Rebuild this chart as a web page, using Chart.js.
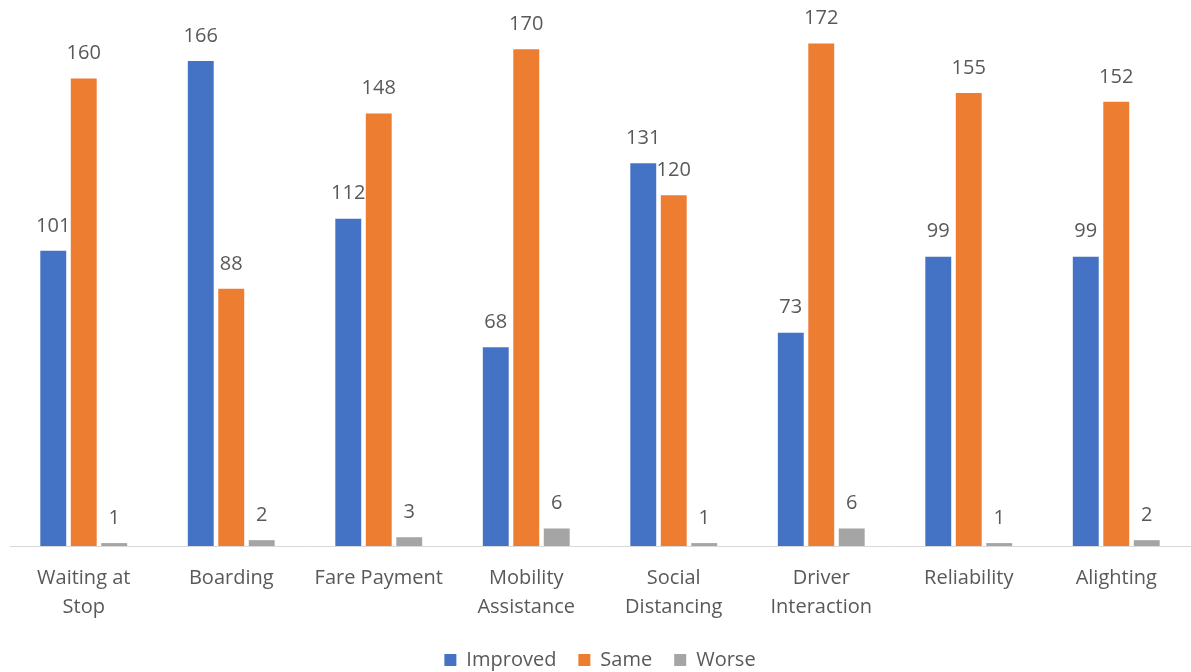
<!DOCTYPE html>
<html>
<head>
<meta charset="utf-8">
<script src="https://cdn.jsdelivr.net/npm/chart.js@4.4.1/dist/chart.umd.min.js"></script>
<style>
  html, body { margin: 0; padding: 0; background: #fff; }
  #wrap { width: 1191px; height: 672px; }
</style>
</head>
<body>
<div id="wrap"><canvas id="barChart"></canvas></div>
<script>
const categories = [
  ["Waiting at", "Stop"], "Boarding", "Fare Payment", ["Mobility", "Assistance"],
  ["Social", "Distancing"], ["Driver", "Interaction"], "Reliability", "Alighting"
];
const improved = [101, 166, 112, 68, 131, 73, 99, 99];
const same = [160, 88, 148, 170, 120, 172, 155, 152];
const worse = [1, 2, 3, 6, 1, 6, 1, 2];

const textColor = "#595959";
const fontFamily = "'Open Sans', sans-serif";

// numbers above each bar
const valueLabels = {
  id: "valueLabels",
  afterDatasetsDraw(chart) {
    const c = chart.ctx;
    c.save();
    c.fillStyle = textColor;
    c.font = "20px " + fontFamily;
    c.textAlign = "center";
    c.textBaseline = "middle";
    chart.data.datasets.forEach((ds, i) => {
      chart.getDatasetMeta(i).data.forEach((bar, j) => {
        c.fillText(ds.data[j], bar.x, bar.y - 25);
      });
    });
    c.restore();
  }
};

const ctx = document.getElementById("barChart").getContext("2d");
const barChart = new Chart(ctx, {
  type: "bar",
  data: {
    labels: categories,
    datasets: [
      { label: "Improved", data: improved, backgroundColor: "#4472C4" },
      { label: "Same", data: same, backgroundColor: "#ED7D31" },
      { label: "Worse", data: worse, backgroundColor: "#A5A5A5" }
    ]
  },
  options: {
    responsive: true,
    maintainAspectRatio: false,
    animation: false,
    categoryPercentage: 0.62,
    barPercentage: 0.85,
    layout: { padding: { left: 10, right: 1, top: 20, bottom: -8 } },
    plugins: {
      tooltip: { enabled: false },
      legend: {
        position: "bottom",
        labels: {
          color: textColor,
          font: { family: fontFamily, size: 20 },
          boxWidth: 12,
          boxHeight: 12,
          padding: 22
        }
      }
    },
    scales: {
      x: {
        grid: { display: false, drawTicks: false },
        border: { color: "#D9D9D9", width: 1 },
        ticks: {
          color: textColor,
          font: { family: fontFamily, size: 20, lineHeight: 1.45 },
          padding: 18,
          maxRotation: 0,
          autoSkip: false
        },
        afterFit(scale) {
          scale.height -= 12;
        }
      },
      y: {
        display: false,
        min: 0,
        max: 180
      }
    }
  },
  plugins: [valueLabels]
});
</script>
</body>
</html>
